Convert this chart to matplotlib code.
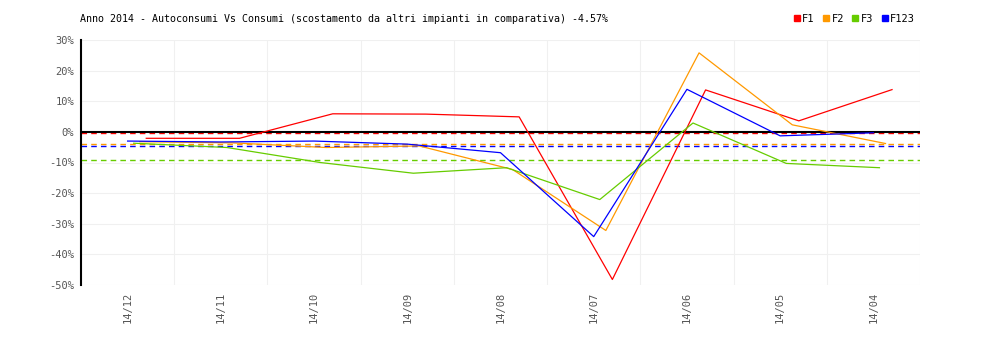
import matplotlib
matplotlib.use('Agg')
import matplotlib.pyplot as plt
from matplotlib.lines import Line2D

# Dati (scostamento % per mese)
mesi = ['14/12', '14/11', '14/10', '14/09', '14/08', '14/07', '14/06', '14/05', '14/04']
f1 = [-2.1, -2.1, 5.9, 5.8, 4.9, -48.2, 13.7, 3.6, 13.8]
f2 = [-3.2, -3.6, -5.1, -4.6, -12.3, -32.2, 25.8, 2.3, -3.8]
f3 = [-3.7, -5.1, -10.0, -13.5, -11.7, -22.1, 2.9, -10.3, -11.7]
f123 = [-3.0, -3.3, -3.0, -4.0, -6.8, -34.2, 13.9, -1.3, -0.3]
# medie (linee tratteggiate)
medie = {'F1': -0.4, 'F2': -4.0, 'F3': -9.3, 'F123': -4.57}

titolo = 'Anno 2014 - Autoconsumi Vs Consumi (scostamento da altri impianti in comparativa) -4.57%'

serie = [
    ('F1', f1, '#ff0000', 0.20),
    ('F2', f2, '#ff9900', 0.13),
    ('F3', f3, '#66cc00', 0.065),
    ('F123', f123, '#0000ff', 0.0),
]

font = 'DejaVu Sans Mono'

fig = plt.figure(figsize=(10, 3.4), dpi=100)
ax = fig.add_axes([0.081, 1 - 285 / 340, 0.839, 245 / 340])

x = list(range(len(mesi)))

# griglia
for gx in [i - 0.5 for i in range(len(mesi) + 1)]:
    ax.axvline(gx, color='#f0f0f0', lw=0.8, zorder=0)
for gy in range(-50, 31, 10):
    ax.axhline(gy, color='#f0f0f0', lw=0.8, zorder=0)

# medie
for nome, valori, colore, off in serie:
    ax.axhline(medie[nome], color=colore, lw=1, dashes=(4, 3), zorder=1)

ax.axhline(0, color='black', lw=1.5, zorder=2)

for nome, valori, colore, off in serie:
    ax.plot([i + off for i in x], valori, color=colore, lw=0.9, zorder=3)

ax.set_xlim(-0.5, len(mesi) - 0.5)
ax.set_ylim(-50, 30)
ax.set_yticks(range(-50, 31, 10))
ax.set_yticklabels([f'{v}%' for v in range(-50, 31, 10)], fontfamily=font,
                   fontsize=7.5, color='#555555')
ax.set_xticks(x)
ax.set_xticklabels(mesi, rotation=90, fontfamily=font, fontsize=7.5, color='#555555')
ax.tick_params(length=0, pad=5)

for s in ['top', 'right', 'bottom']:
    ax.spines[s].set_visible(False)
ax.spines['left'].set_color('black')
ax.spines['left'].set_linewidth(1.5)

fig.text(0.08, 1 - 19 / 340, titolo, fontfamily=font, fontsize=7.2,
         color='black', va='center', ha='left')

handles = [Line2D([], [], marker='s', ls='', color=c, markersize=5) for _, _, c, _ in serie]
fig.legend(handles, [s[0] for s in serie], loc='center right',
           bbox_to_anchor=(0.92, 1 - 19 / 340), ncol=4, frameon=False,
           prop={'family': font, 'size': 7.5}, handletextpad=0.0,
           columnspacing=0.6, handlelength=1.0, borderpad=0)

fig.savefig('out.png', dpi=100)
